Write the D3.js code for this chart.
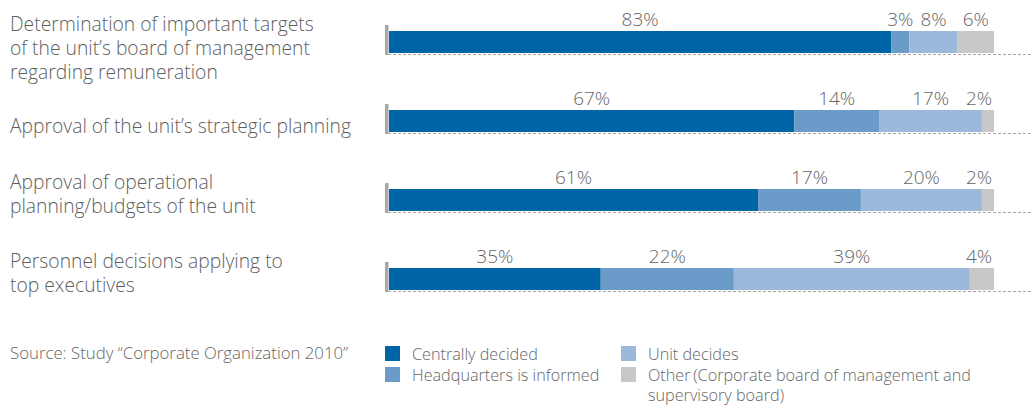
<!DOCTYPE html>
<html><head><meta charset="utf-8">
<script src="https://cdn.jsdelivr.net/npm/d3@7"></script>
<style>body{margin:0;background:#fff;}svg{display:block;font-family:"Open Sans",sans-serif;font-weight:300;}</style>
</head><body><svg id="c" width="1032" height="405"></svg>
<script>
const categories = [
  ["Determination of important targets","of the unit\u2019s board of management","regarding remuneration"],
  ["Approval of the unit\u2019s strategic planning"],
  ["Approval of operational","planning/budgets of the unit"],
  ["Personnel decisions applying to","top executives"]
];
const seriesNames = ["Centrally decided","Headquarters is informed","Unit decides","Other"];
const centrallyDecided = [83, 67, 61, 35];
const hqInformed = [3, 14, 17, 22];
const unitDecides = [8, 17, 20, 39];
const other = [6, 2, 2, 4];
const colors = ["#0065a7","#6a9bc9","#9cb8db","#c8c8c8"];
const sourceText = "Source: Study \u201cCorporate Organization 2010\u201d";
const legendItems = [
  ["Centrally decided"],
  ["Headquarters is informed"],
  ["Unit decides"],
  ["Other\u2009(Corporate board of management and","supervisory board)"]
];

const svg = d3.select("#c");
const x0 = 389, x1 = 994;
const x = d3.scaleLinear().domain([0,100]).range([x0,x1]);
const bh = 22;
const y = d3.scaleLinear().domain([0, categories.length-1]).range([31, 268]);
const yTop = i => y(i);

const series = [centrallyDecided, hqInformed, unitDecides, other];
const rows = categories.map((c,i)=>{
  let acc = 0;
  return series.map((s,k)=>{ const d={k, v:s[i], a:acc}; acc+=s[i]; return d;});
});

rows.forEach((segs,i)=>{
  const g = svg.append("g");
  const t = yTop(i);
  g.append("line").attr("x1",388).attr("x2",1032).attr("y1",t+bh+1.5).attr("y2",t+bh+1.5)
    .attr("stroke","#a6a6a6").attr("stroke-width",1.2).attr("stroke-dasharray","3,2");
  g.append("rect").attr("x",385).attr("y",t-6).attr("width",3.5).attr("height",bh+8).attr("fill","#a8a8a8");
  g.selectAll("rect.seg").data(segs).enter().append("rect").attr("class","seg")
    .attr("x",d=>x(d.a)).attr("width",d=>x(d.a+d.v)-x(d.a)).attr("y",t).attr("height",bh)
    .attr("fill",d=>colors[d.k]);
  g.selectAll("text.lbl").data(segs).enter().append("text").attr("class","lbl")
    .attr("x",d=>Math.min(x(d.a+d.v/2), x1-15)).attr("y",t-5).attr("text-anchor","middle")
    .attr("font-size",19).attr("fill","#666").text(d=>d.v+"%");
  const lines = categories[i];
  const first = lines.length===1 ? t+23 : t-0.5;
  lines.forEach((ln,j)=>{
    g.append("text").attr("x",10).attr("y", first + j*24)
      .attr("font-size",19.3).attr("fill","#5f5f5f").text(ln);
  });
});

svg.append("text").attr("x",10).attr("y",359).attr("font-size",16.8).attr("fill","#666").text(sourceText);
const legPos = [[385,346],[385,367],[621,346],[621,367]];
legendItems.forEach((it,k)=>{
  svg.append("rect").attr("x",legPos[k][0]).attr("y",legPos[k][1]).attr("width",15).attr("height",15).attr("fill",colors[k]);
  it.forEach((ln,j)=>{
    svg.append("text").attr("x",legPos[k][0]+27).attr("y",legPos[k][1]+13.5+j*20.5).attr("font-size",16.2).attr("fill","#666").text(ln);
  });
});
</script></body></html>
